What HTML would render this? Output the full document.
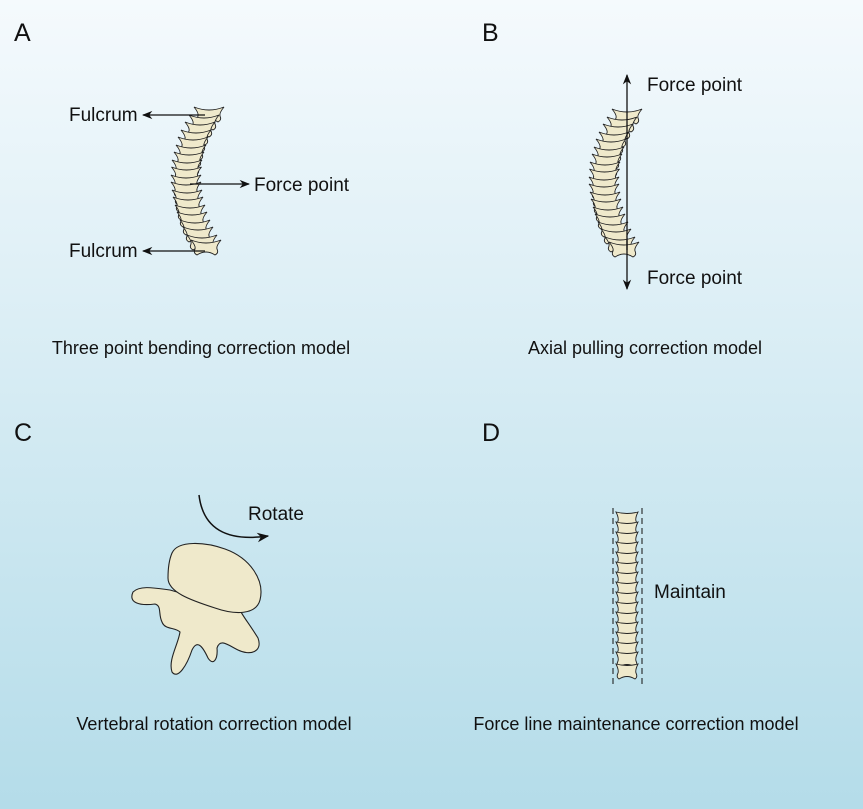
<!DOCTYPE html>
<html><head><style>
html,body{margin:0;padding:0}
body{width:863px;height:809px;overflow:hidden;background:linear-gradient(#f5fafd,#b4dce9);font-family:"Liberation Sans",sans-serif}
svg{display:block}
text{font-family:"Liberation Sans",sans-serif;fill:#111}
</style></head><body>
<svg width="863" height="809" viewBox="0 0 863 809" xmlns="http://www.w3.org/2000/svg">
<defs>
<marker id="ah" viewBox="0 0 10 10" refX="9" refY="5" markerWidth="8" markerHeight="8" orient="auto-start-reverse"><path d="M0,1 L10,5 L0,9 L3,5 Z" fill="#111"/></marker>
<path id="v" d="M-15,-6 Q0,0 15,-6 Q10,0 11,3 Q13,7 9,9 Q0,3 -9,9 Q-13,7 -11,3 Q-10,0 -15,-6 Z" fill="#efe9cb" stroke="#222" stroke-width="0.9"/>
<path id="vd" d="M-11,-6 Q0,-3 11,-6 Q8,0 9,3 Q11,7 8,9 Q0,4 -8,9 Q-11,7 -9,3 Q-8,0 -11,-6 Z" fill="#efe9cb" stroke="#222" stroke-width="0.9"/>
<g id="spine">
<use href="#v" x="209" y="113"/><use href="#v" x="204" y="121"/><use href="#v" x="200" y="128"/><use href="#v" x="196" y="136"/><use href="#v" x="193" y="143"/><use href="#v" x="191" y="151"/><use href="#v" x="189" y="158"/><use href="#v" x="187" y="166"/><use href="#v" x="186.5" y="173"/><use href="#v" x="186" y="181"/><use href="#v" x="186" y="188"/><use href="#v" x="187" y="196"/><use href="#v" x="188" y="203"/><use href="#v" x="190" y="211"/><use href="#v" x="192" y="218"/><use href="#v" x="195" y="226"/><use href="#v" x="198" y="233"/><use href="#v" x="202" y="241"/><use href="#v" x="206" y="246"/>
</g>
</defs>
<text x="14" y="41" font-size="25">A</text>
<text x="482" y="41" font-size="25">B</text>
<text x="14" y="441" font-size="25">C</text>
<text x="482" y="441" font-size="25">D</text>

<use href="#spine"/>
<line x1="205" y1="115" x2="143" y2="115" stroke="#111" stroke-width="1.3" marker-end="url(#ah)"/>
<line x1="190" y1="184" x2="249" y2="184" stroke="#111" stroke-width="1.3" marker-end="url(#ah)"/>
<line x1="205" y1="251" x2="143" y2="251" stroke="#111" stroke-width="1.3" marker-end="url(#ah)"/>
<text x="69" y="121" font-size="19">Fulcrum</text>
<text x="254" y="191" font-size="19">Force point</text>
<text x="69" y="257" font-size="19">Fulcrum</text>
<text x="201" y="354" font-size="18" text-anchor="middle">Three point bending correction model</text>

<g transform="translate(418,2)"><use href="#spine"/></g>
<line x1="627" y1="250" x2="627" y2="75" stroke="#111" stroke-width="1.3" marker-end="url(#ah)"/>
<line x1="627" y1="240" x2="627" y2="289" stroke="#111" stroke-width="1.3" marker-end="url(#ah)"/>
<text x="647" y="91" font-size="19">Force point</text>
<text x="647" y="284" font-size="19">Force point</text>
<text x="645" y="354" font-size="18" text-anchor="middle">Axial pulling correction model</text>

<path d="M199,495 Q205,545 268,536" fill="none" stroke="#111" stroke-width="1.5" marker-end="url(#ah)"/>
<text x="248" y="520" font-size="19">Rotate</text>
<path d="M170,590 C155,588 140,585 133,592 C128,603 140,606 155,604 C162,606 158,614 162,622 C165,630 175,627 180,632 C178,645 168,660 172,672 C178,680 187,665 192,650 C197,640 202,645 208,658 C213,666 218,660 217,648 C220,638 228,645 238,650 C250,656 263,652 258,638 C250,625 242,615 240,610 Z" fill="#efe9cb" stroke="#222" stroke-width="1.1"/>
<path d="M172,553 C178,540 205,542 225,549 C250,558 265,580 260,600 C256,615 235,615 215,608 C190,600 168,592 168,578 C168,568 169,560 172,553 Z" fill="#efe9cb" stroke="#222" stroke-width="1.1"/>
<text x="214" y="730" font-size="18" text-anchor="middle">Vertebral rotation correction model</text>

<line x1="613" y1="508" x2="613" y2="688" stroke="#111" stroke-width="1" stroke-dasharray="6,4"/>
<line x1="642" y1="508" x2="642" y2="688" stroke="#111" stroke-width="1" stroke-dasharray="6,4"/>
<g>
<use href="#vd" x="627" y="518"/><use href="#vd" x="627" y="528"/><use href="#vd" x="627" y="538"/><use href="#vd" x="627" y="548"/><use href="#vd" x="627" y="558"/><use href="#vd" x="627" y="568"/><use href="#vd" x="627" y="578"/><use href="#vd" x="627" y="588"/><use href="#vd" x="627" y="598"/><use href="#vd" x="627" y="608"/><use href="#vd" x="627" y="618"/><use href="#vd" x="627" y="628"/><use href="#vd" x="627" y="638"/><use href="#vd" x="627" y="648"/><use href="#vd" x="627" y="658"/><use href="#vd" x="627" y="670"/>
</g>
<text x="654" y="598" font-size="19">Maintain</text>
<text x="636" y="730" font-size="18" text-anchor="middle">Force line maintenance correction model</text>
</svg>
</body></html>
